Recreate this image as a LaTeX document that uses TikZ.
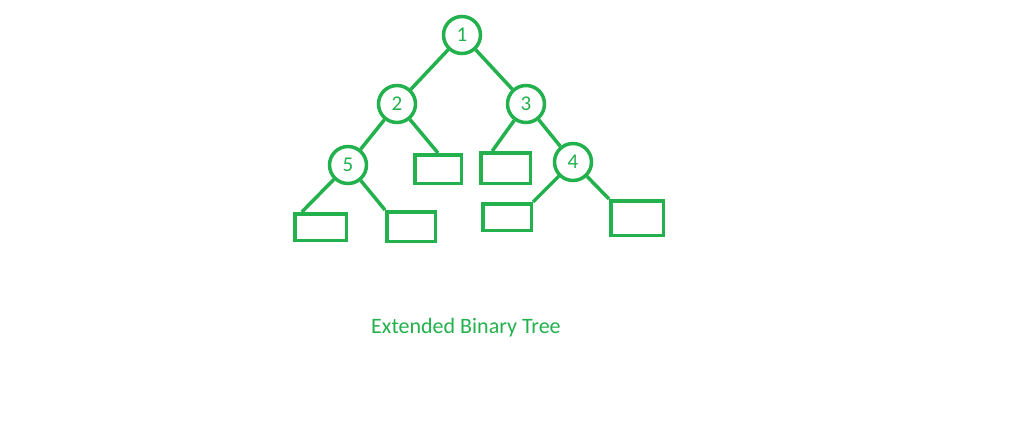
\documentclass[tikz,border=0pt]{standalone}
\usepackage{fontspec}
\setmainfont{Carlito}
\usetikzlibrary{calc}
\definecolor{tgreen}{RGB}{34,177,76}
\begin{document}
\begin{tikzpicture}[x=1pt,y=-1pt,
  inner/.style={circle,draw=tgreen,line width=3.5pt,minimum size=37pt,inner sep=0pt,text=tgreen,font=\fontsize{21}{21}\selectfont},
  ext/.style={rectangle,draw=tgreen,line width=3.5pt,inner sep=0pt},
  edge/.style={draw=tgreen,line width=3.5pt}]
\useasboundingbox[fill=white] (0,0) rectangle (1024,421);
\node[inner] (n1) at (462,35) {1};
\node[inner] (n2) at (397,104) {2};
\node[inner] (n3) at (526,104) {3};
\node[inner] (n5) at (348,165) {5};
\node[inner] (n4) at (573,162) {4};
\node[ext,minimum width=46.5pt,minimum height=28.5pt] (r2) at (438,169) {};
\node[ext,minimum width=49.5pt,minimum height=30.5pt] (r3) at (505.5,168) {};
\node[ext,minimum width=51.5pt,minimum height=26.5pt] (r5a) at (320.5,227) {};
\node[ext,minimum width=48.5pt,minimum height=29.5pt] (r5b) at (411,226.5) {};
\node[ext,minimum width=48.5pt,minimum height=26.5pt] (r4a) at (507,217) {};
\node[ext,minimum width=52.5pt,minimum height=34.5pt] (r4b) at (637,218) {};
\draw[edge] (n1) -- (n2);
\draw[edge] (n1) -- (n3);
\draw[edge] (n2) -- (n5);
\draw[edge] (n2) -- (r2.north);
\draw[edge] (n3) -- ($(r3.north west)!0.25!(r3.north east)$);
\draw[edge] (n3) -- (n4);
\draw[edge] (n5) -- ($(r5a.north west)!0.16!(r5a.north east)$);
\draw[edge] (n5) -- (r5b.north west);
\draw[edge] (n4) -- (r4a.north east);
\draw[edge] (n4) -- (r4b.north west);
\node[text=tgreen,font=\fontsize{22}{22}\selectfont,anchor=west,inner sep=0pt] (cap) at (371,328) {Extended Binary Tree};
\end{tikzpicture}
\end{document}
